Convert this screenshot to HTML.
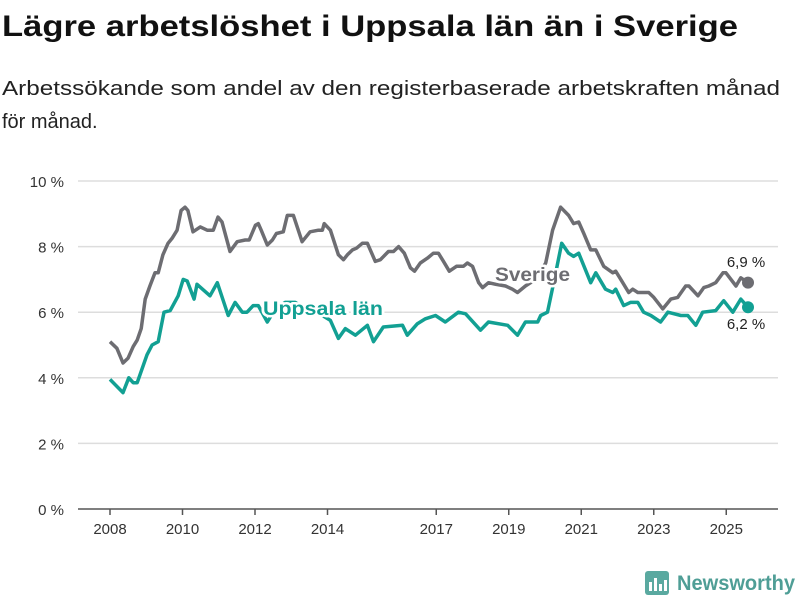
<!DOCTYPE html>
<html><head><meta charset="utf-8"><style>
body{margin:0;background:#fff;}
svg{display:block;font-family:"Liberation Sans",sans-serif;}
</style></head><body>
<svg width="800" height="600" viewBox="0 0 800 600">
<text x="2" y="36" font-size="30" font-weight="bold" fill="#111" textLength="736" lengthAdjust="spacingAndGlyphs">Lägre arbetslöshet i Uppsala län än i Sverige</text>
<text x="2" y="95" font-size="20" fill="#222" textLength="778" lengthAdjust="spacingAndGlyphs">Arbetssökande som andel av den registerbaserade arbetskraften månad</text>
<text x="2" y="128" font-size="20" fill="#222">för månad.</text>
<g id="grid"></g>
<g id="lines"></g>
<g id="labels"></g>
<g>
<rect x="645" y="571" width="24" height="24" rx="3" fill="#5aa9a0"/>
<rect x="649" y="582" width="3" height="9" fill="#fff"/><rect x="654" y="578" width="3" height="13" fill="#fff"/><rect x="659" y="584" width="3" height="7" fill="#fff"/><rect x="664" y="580" width="3" height="11" fill="#fff"/>
<text x="677" y="590" font-size="21" font-weight="bold" fill="#4f9e96" textLength="118" lengthAdjust="spacingAndGlyphs">Newsworthy</text>
</g>
</svg>
<script>
const yTicks=[0,2,4,6,8,10];
const yTickLabels=["0 %","2 %","4 %","6 %","8 %","10 %"];
const xTicks=[2008,2010,2012,2014,2017,2019,2021,2023,2025];
const sweYears=[2008.00,2008.19,2008.36,2008.50,2008.64,2008.75,2008.86,2008.97,2009.10,2009.24,2009.33,2009.46,2009.60,2009.71,2009.85,2009.96,2010.07,2010.15,2010.29,2010.49,2010.68,2010.85,2010.98,2011.09,2011.31,2011.51,2011.73,2011.84,2012.01,2012.09,2012.17,2012.34,2012.48,2012.59,2012.78,2012.89,2013.06,2013.30,2013.52,2013.75,2013.86,2013.91,2014.08,2014.30,2014.44,2014.55,2014.69,2014.80,2014.96,2015.10,2015.32,2015.46,2015.68,2015.82,2015.96,2016.12,2016.29,2016.40,2016.56,2016.76,2016.92,2017.06,2017.20,2017.36,2017.56,2017.75,2017.86,2018.00,2018.17,2018.28,2018.44,2018.64,2018.91,2019.10,2019.24,2019.46,2019.74,2020.02,2020.21,2020.43,2020.65,2020.79,2020.93,2021.07,2021.26,2021.40,2021.62,2021.87,2021.95,2022.09,2022.31,2022.42,2022.56,2022.86,2023.00,2023.25,2023.47,2023.66,2023.88,2023.97,2024.22,2024.38,2024.52,2024.71,2024.91,2024.99,2025.27,2025.40,2025.60];
const sweValues=[5.1,4.9,4.45,4.6,4.95,5.15,5.5,6.4,6.8,7.2,7.2,7.75,8.1,8.25,8.5,9.1,9.2,9.1,8.45,8.6,8.5,8.5,8.9,8.75,7.85,8.15,8.2,8.2,8.65,8.7,8.5,8.05,8.2,8.4,8.45,8.95,8.95,8.15,8.45,8.5,8.5,8.7,8.5,7.75,7.6,7.75,7.9,7.95,8.1,8.1,7.55,7.6,7.85,7.85,8.0,7.8,7.35,7.25,7.5,7.65,7.8,7.8,7.55,7.25,7.4,7.4,7.5,7.4,6.9,6.75,6.9,6.85,6.8,6.7,6.6,6.8,7.0,7.5,8.5,9.2,8.95,8.7,8.75,8.4,7.9,7.9,7.4,7.2,7.25,7.0,6.6,6.7,6.6,6.6,6.45,6.1,6.4,6.45,6.8,6.8,6.5,6.75,6.8,6.9,7.2,7.2,6.8,7.05,6.9];
const uppYears=[2008.00,2008.36,2008.52,2008.64,2008.75,2009.02,2009.16,2009.33,2009.49,2009.66,2009.88,2010.02,2010.13,2010.32,2010.40,2010.76,2010.96,2011.26,2011.45,2011.65,2011.78,2011.95,2012.09,2012.34,2012.56,2012.83,2013.11,2013.39,2013.66,2013.86,2014.08,2014.30,2014.49,2014.77,2015.10,2015.27,2015.54,2016.07,2016.20,2016.48,2016.70,2016.98,2017.25,2017.61,2017.81,2018.22,2018.44,2018.97,2019.24,2019.46,2019.80,2019.88,2020.07,2020.24,2020.46,2020.65,2020.79,2020.93,2021.26,2021.40,2021.67,2021.87,2021.95,2022.17,2022.36,2022.56,2022.72,2022.92,2023.19,2023.39,2023.75,2023.94,2024.16,2024.35,2024.71,2024.93,2025.18,2025.40,2025.60];
const uppValues=[3.95,3.55,4.0,3.85,3.85,4.7,5.0,5.1,6.0,6.05,6.5,7.0,6.95,6.4,6.85,6.5,6.9,5.9,6.3,6.0,6.0,6.2,6.2,5.7,6.1,6.3,6.3,6.1,6.0,5.9,5.75,5.2,5.5,5.3,5.6,5.1,5.55,5.6,5.3,5.65,5.8,5.9,5.7,6.0,5.95,5.45,5.7,5.6,5.3,5.7,5.7,5.9,6.0,6.9,8.1,7.8,7.7,7.8,6.9,7.2,6.7,6.6,6.7,6.2,6.3,6.3,6.0,5.9,5.7,6.0,5.9,5.9,5.6,6.0,6.05,6.35,6.0,6.4,6.15];
const NS="http://www.w3.org/2000/svg";
const X=y=>110+(y-2008)*36.25;
const Y=v=>509-v*32.8;
function mk(tag,attrs,parent,txt){const e=document.createElementNS(NS,tag);for(const k in attrs)e.setAttribute(k,attrs[k]);if(txt!==undefined)e.textContent=txt;parent.appendChild(e);return e;}
const grid=document.getElementById('grid'),lines=document.getElementById('lines'),labels=document.getElementById('labels');
yTicks.forEach((t,i)=>{
  const l=mk('line',{x1:78,x2:778,y1:Y(t),y2:Y(t),stroke:t===0?'#555':'#ddd','stroke-width':1.5},grid);
  
  
  const tx=mk('text',{x:64,y:Y(t)+6,'text-anchor':'end','font-size':15,fill:'#333'},grid,yTickLabels[i]);
  
  
});
xTicks.forEach(t=>{
  const l=mk('line',{x1:X(t),x2:X(t),y1:509,y2:515,stroke:'#555','stroke-width':1.5},grid);
  
  
  const tx=mk('text',{x:X(t),y:534,'text-anchor':'middle','font-size':15,fill:'#333'},grid,String(t));
  
  
});
function pathOf(ys,vs){return ys.map((y,i)=>(i?'L':'M')+X(y).toFixed(1)+','+Y(vs[i]).toFixed(1)).join('');}
const ps=mk('path',{d:pathOf(sweYears,sweValues),fill:'none',stroke:'#6d6d72','stroke-width':3.5,'stroke-linejoin':'round'},lines);


const pu=mk('path',{d:pathOf(uppYears,uppValues),fill:'none',stroke:'#12a093','stroke-width':3.5,'stroke-linejoin':'round'},lines);


const ls=sweYears.length-1,lu=uppYears.length-1;
const ds=mk('circle',{cx:X(sweYears[ls]),cy:Y(sweValues[ls]),r:6,fill:'#6d6d72'},lines);


const du=mk('circle',{cx:X(uppYears[lu]),cy:Y(uppValues[lu]),r:6,fill:'#12a093'},lines);


const vs=mk('text',{x:746,y:267,'text-anchor':'middle','font-size':15,fill:'#222'},labels,'6,9 %');


const vu=mk('text',{x:746,y:329,'text-anchor':'middle','font-size':15,fill:'#222'},labels,'6,2 %');


const sl=mk('text',{x:495,y:281,'font-size':19,'font-weight':'bold',fill:'#6d6d72',stroke:'#fff','stroke-width':5,'paint-order':'stroke','stroke-linejoin':'round',textLength:75,lengthAdjust:'spacingAndGlyphs'},labels,'Sverige');


const ul=mk('text',{x:263,y:315,'font-size':19,'font-weight':'bold',fill:'#12a093',stroke:'#fff','stroke-width':5,'paint-order':'stroke','stroke-linejoin':'round',textLength:120,lengthAdjust:'spacingAndGlyphs'},labels,'Uppsala län');


</script>
</body></html>
